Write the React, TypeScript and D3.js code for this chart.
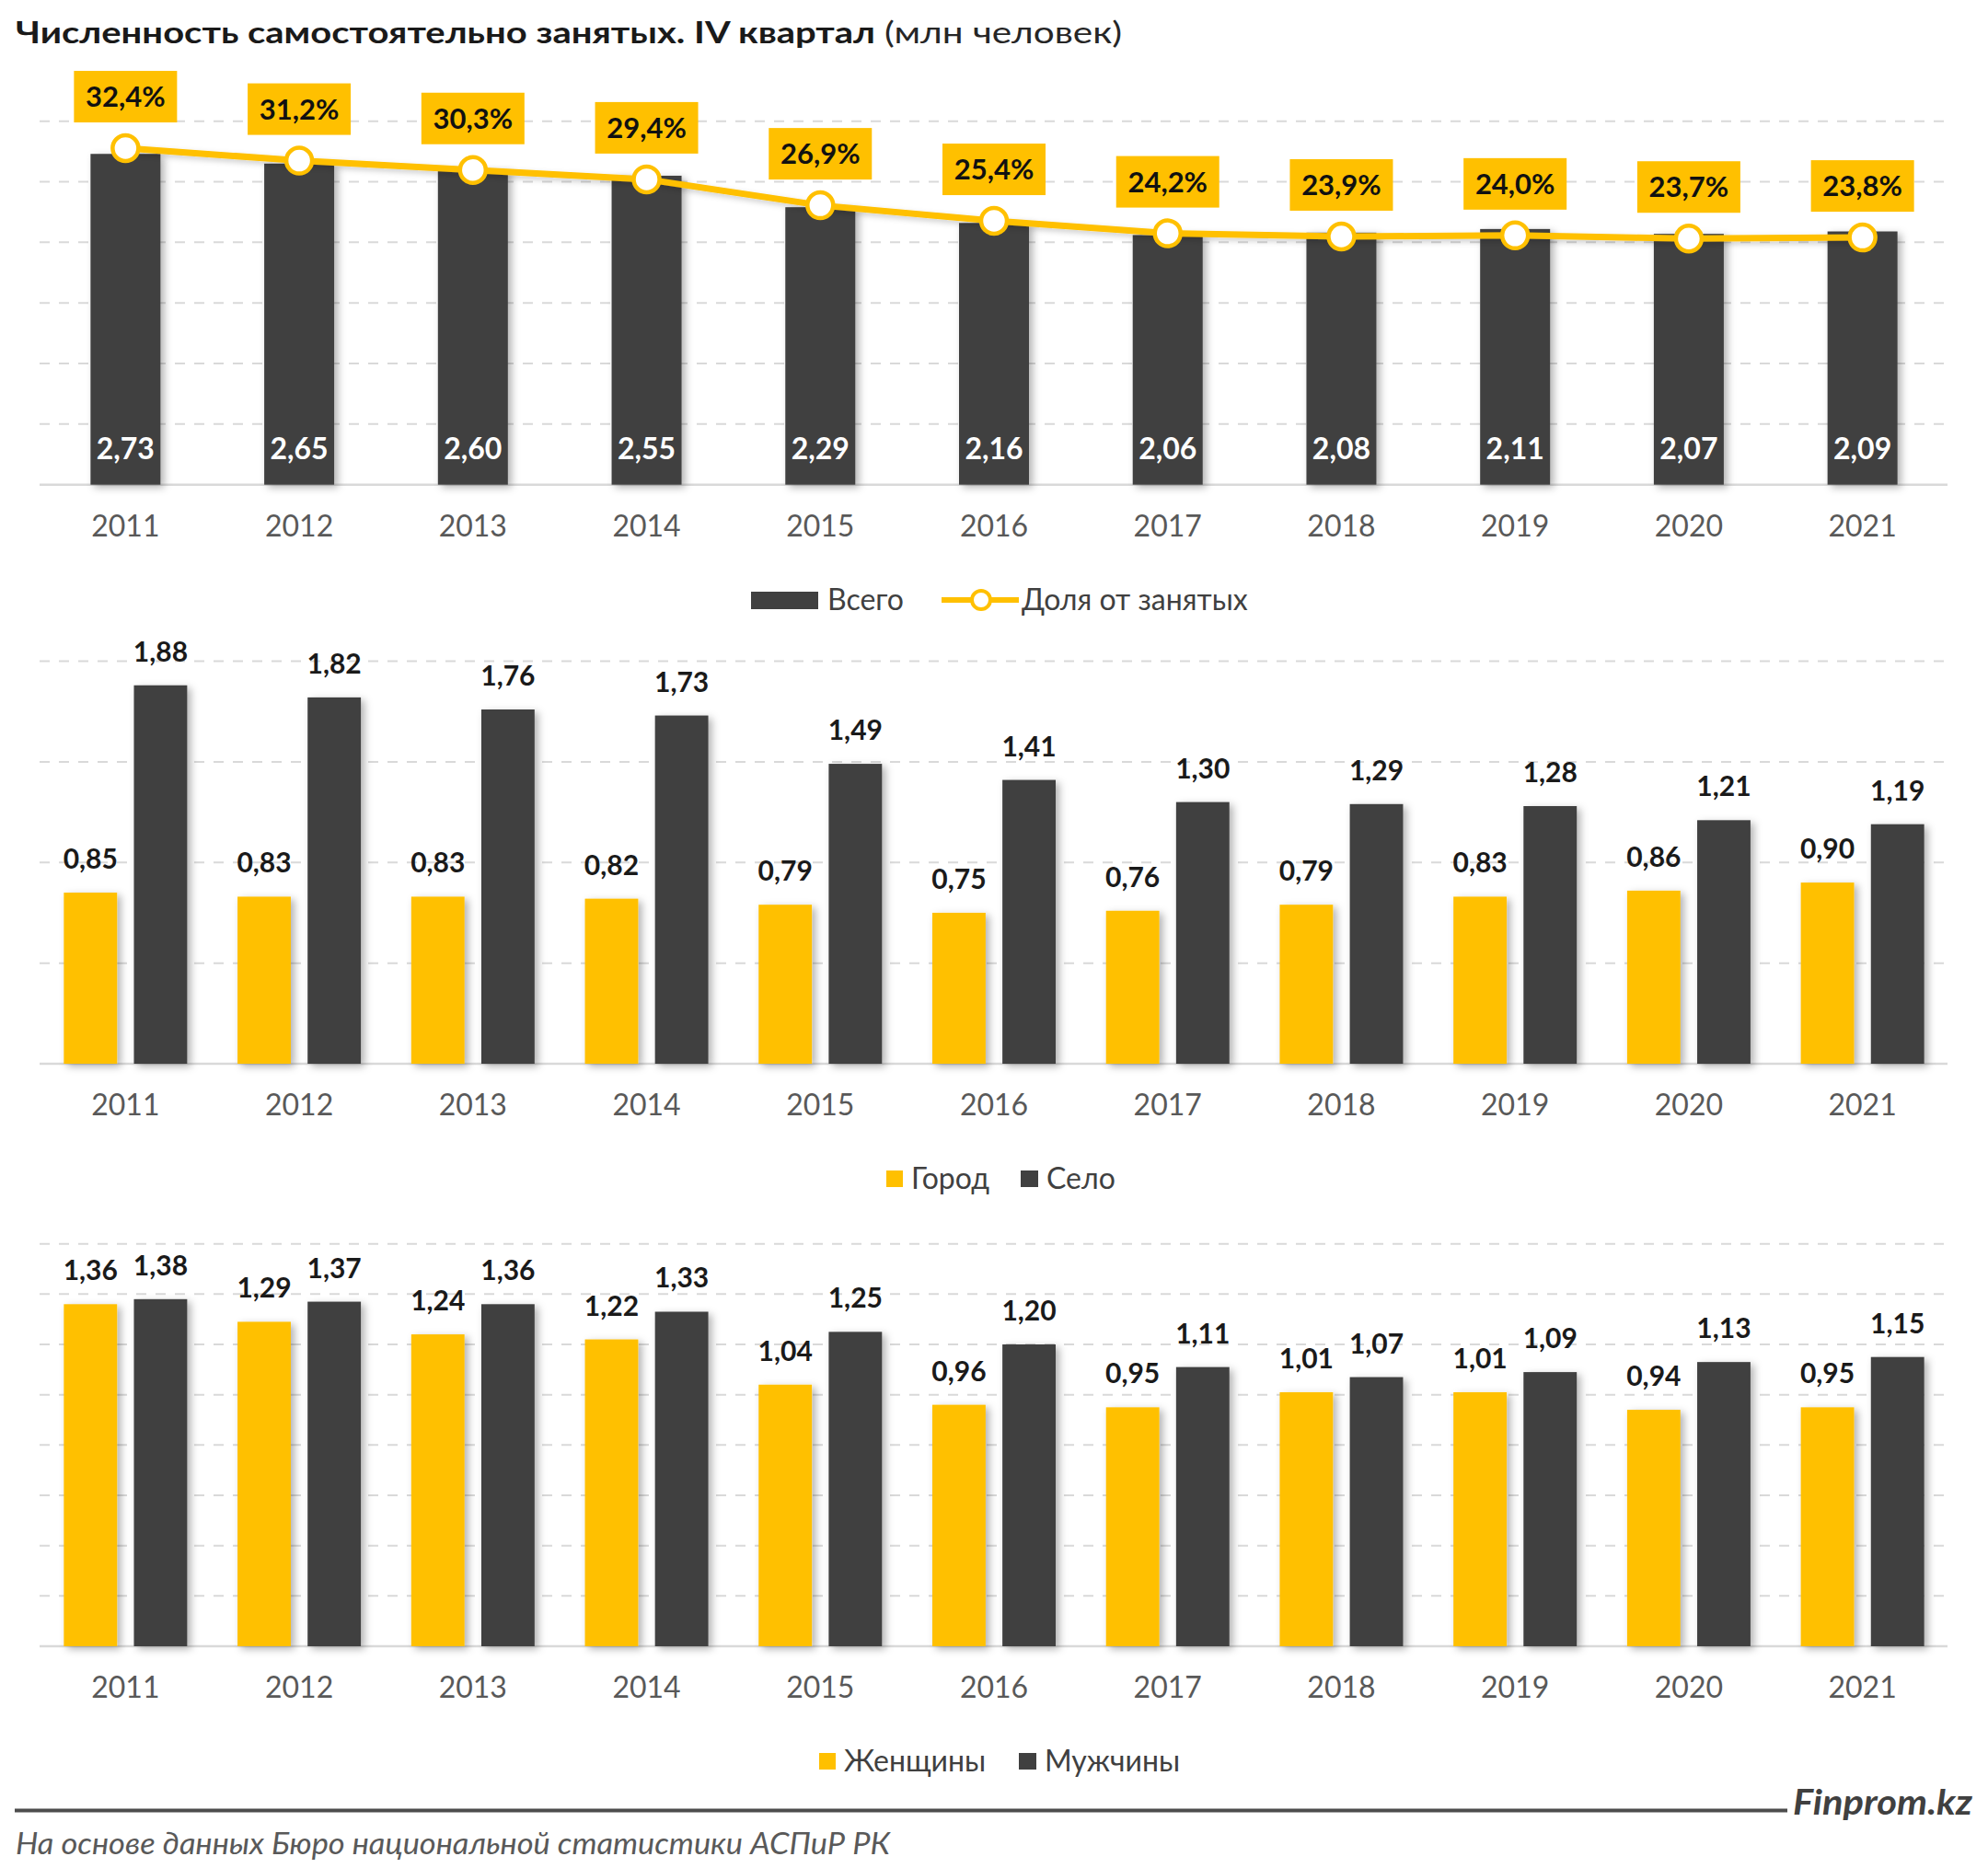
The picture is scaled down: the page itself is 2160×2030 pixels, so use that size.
import React from 'react';
import * as d3 from 'd3';

const years = ['2011', '2012', '2013', '2014', '2015', '2016', '2017', '2018', '2019', '2020', '2021'];
const totalValues = [2.73, 2.65, 2.60, 2.55, 2.29, 2.16, 2.06, 2.08, 2.11, 2.07, 2.09];
const shareValues = [32.4, 31.2, 30.3, 29.4, 26.9, 25.4, 24.2, 23.9, 24.0, 23.7, 23.8];
const cityValues = [0.85, 0.83, 0.83, 0.82, 0.79, 0.75, 0.76, 0.79, 0.83, 0.86, 0.90];
const villageValues = [1.88, 1.82, 1.76, 1.73, 1.49, 1.41, 1.30, 1.29, 1.28, 1.21, 1.19];
const womenValues = [1.36, 1.29, 1.24, 1.22, 1.04, 0.96, 0.95, 1.01, 1.01, 0.94, 0.95];
const menValues = [1.38, 1.37, 1.36, 1.33, 1.25, 1.20, 1.11, 1.07, 1.09, 1.13, 1.15];

const W = 2160;
const H = 2030;
const YELLOW = '#FFC000';
const DARK = '#404040';
const GRID = '#D9D9D9';
const AXIS_TEXT = '#595959';
const FONT = 'Lato, "Open Sans", sans-serif';
const GRID_X0 = 43;
const GRID_X1 = 2116;

const fmt = (v: number, d = 2) => v.toFixed(d).replace('.', ',');

const x = d3.scaleBand<string>().domain(years).range([42, 2118]).paddingInner(0).paddingOuter(0);

function GridLines({ y, ticks }: { y: d3.ScaleLinear<number, number>; ticks: number[] }) {
  return (
    <g>
      {ticks.map((t, i) => (
        <line
          key={i}
          x1={GRID_X0}
          x2={GRID_X1}
          y1={y(t)}
          y2={y(t)}
          stroke={GRID}
          strokeWidth={t === 0 ? 2.5 : 2}
          strokeDasharray={t === 0 ? undefined : '11 10'}
        />
      ))}
    </g>
  );
}

function XLabels({ base }: { base: number }) {
  return (
    <g>
      {years.map((yr) => (
        <text
          key={yr}
          x={(x(yr) as number) + x.bandwidth() / 2}
          y={base + 56}
          textAnchor="middle"
          fontFamily={FONT}
          fontSize={32}
          fill={AXIS_TEXT}
        >
          {yr}
        </text>
      ))}
    </g>
  );
}

function Chart1() {
  const top = 131.7;
  const base = 526.7;
  const y = d3.scaleLinear().domain([0, 3]).range([base, top]);
  const y2 = d3.scaleLinear().domain([0, 35]).range([base, top]);
  const barW = 76;
  const cx = (yr: string) => (x(yr) as number) + x.bandwidth() / 2;
  const line = d3
    .line<number>()
    .x((_, i) => cx(years[i]))
    .y((d) => y2(d));
  return (
    <g>
      <GridLines y={y} ticks={d3.range(0, 3.01, 0.5)} />
      <g filter="url(#shadow)">
        {years.map((yr, i) => (
          <rect
            key={yr}
            x={cx(yr) - barW / 2}
            y={y(totalValues[i])}
            width={barW}
            height={base - y(totalValues[i])}
            fill={DARK}
          />
        ))}
      </g>
      {years.map((yr, i) => (
        <text
          key={yr}
          x={cx(yr)}
          y={base - 28}
          textAnchor="middle"
          fontFamily={FONT}
          fontWeight={700}
          fontSize={32}
          fill="#FFFFFF"
        >
          {fmt(totalValues[i])}
        </text>
      ))}
      <path d={line(shareValues) || ''} fill="none" stroke={YELLOW} strokeWidth={7} filter="url(#shadowLine)" />
      {years.map((yr, i) => (
        <circle key={yr} cx={cx(yr)} cy={y2(shareValues[i])} r={14} fill="#FFFFFF" stroke={YELLOW} strokeWidth={4.5} />
      ))}
      {years.map((yr, i) => {
        const py = y2(shareValues[i]);
        const bw = 112;
        const bh = 56;
        const by = py - 28 - bh;
        return (
          <g key={yr}>
            <rect x={cx(yr) - bw / 2} y={by} width={bw} height={bh} fill={YELLOW} />
            <text
              x={cx(yr)}
              y={by + bh / 2 + 11}
              textAnchor="middle"
              fontFamily={FONT}
              fontWeight={700}
              fontSize={31}
              fill="#111111"
            >
              {fmt(shareValues[i], 1) + '%'}
            </text>
          </g>
        );
      })}
      <XLabels base={base} />
      {/* legend */}
      <g fontFamily={FONT} fontSize={32} fill={DARK}>
        <rect x={816} y={643} width={73} height={19} fill={DARK} />
        <text x={899} y={663}>Всего</text>
        <line x1={1023} x2={1107} y1={652} y2={652} stroke={YELLOW} strokeWidth={6} />
        <circle cx={1066} cy={652} r={10} fill="#FFFFFF" stroke={YELLOW} strokeWidth={4} />
        <text x={1110} y={663}>Доля от занятых</text>
      </g>
    </g>
  );
}

function GroupChart({
  top,
  base,
  max,
  step,
  a,
  b,
  legendA,
  legendB,
  legendY,
  legendAX,
  legendBX,
}: {
  top: number;
  base: number;
  max: number;
  step: number;
  a: number[];
  b: number[];
  legendA: string;
  legendB: string;
  legendY: number;
  legendAX: number;
  legendBX: number;
}) {
  const y = d3.scaleLinear().domain([0, max]).range([base, top]);
  const groupW = 134;
  const inner = d3.scaleBand<string>().domain(['a', 'b']).range([0, groupW]).paddingInner(0.24);
  const gx = (yr: string) => (x(yr) as number) + (x.bandwidth() - groupW) / 2;
  const series = [
    { key: 'a', vals: a, color: YELLOW },
    { key: 'b', vals: b, color: DARK },
  ];
  return (
    <g>
      <GridLines y={y} ticks={d3.range(0, max + 0.001, step)} />
      <g filter="url(#shadow)">
        {series.map((s) =>
          years.map((yr, i) => (
            <rect
              key={s.key + yr}
              x={gx(yr) + (inner(s.key) as number)}
              y={y(s.vals[i])}
              width={inner.bandwidth()}
              height={base - y(s.vals[i])}
              fill={s.color}
            />
          ))
        )}
      </g>
      {series.map((s) =>
        years.map((yr, i) => (
          <text
            key={'t' + s.key + yr}
            x={gx(yr) + (inner(s.key) as number) + inner.bandwidth() / 2}
            y={y(s.vals[i]) - 26}
            textAnchor="middle"
            fontFamily={FONT}
            fontWeight={700}
            fontSize={30}
            fill="#1A1A1A"
          >
            {fmt(s.vals[i])}
          </text>
        ))
      )}
      <XLabels base={base} />
      <g fontFamily={FONT} fontSize={32} fill={DARK}>
        <rect x={legendAX} y={legendY - 9} width={18} height={18} fill={YELLOW} />
        <text x={legendAX + 27} y={legendY + 11}>{legendA}</text>
        <rect x={legendBX} y={legendY - 9} width={19} height={18} fill={DARK} />
        <text x={legendBX + 28} y={legendY + 11}>{legendB}</text>
      </g>
    </g>
  );
}

export default function App() {
  return (
    <svg
      width={W}
      height={H}
      viewBox={`0 0 ${W} ${H}`}
      style={{ position: 'absolute', left: 0, top: 0, background: '#FFFFFF' }}
    >
      <defs>
        <filter id="shadow" x="-20%" y="-20%" width="140%" height="140%">
          <feDropShadow dx={4} dy={3} stdDeviation={4} floodColor="#000000" floodOpacity={0.3} />
        </filter>
        <filter id="shadowLine" x="-5%" y="-50%" width="110%" height="200%">
          <feDropShadow dx={2} dy={3} stdDeviation={3} floodColor="#000000" floodOpacity={0.2} />
        </filter>
      </defs>
      <rect width={W} height={H} fill="#FFFFFF" />
      <text
        x={17}
        y={47}
        fontFamily={FONT}
        fontSize={33}
        fontWeight={700}
        fill="#1A1A1A"
        textLength={934}
        lengthAdjust="spacingAndGlyphs"
      >
        Численность самостоятельно занятых. IV квартал
      </text>
      <text
        x={961}
        y={47}
        fontFamily={FONT}
        fontSize={33}
        fill="#262626"
        textLength={258}
        lengthAdjust="spacingAndGlyphs"
      >
        (млн человек)
      </text>
      <Chart1 />
      <GroupChart
        top={718.5}
        base={1156}
        max={2}
        step={0.5}
        a={cityValues}
        b={villageValues}
        legendA="Город"
        legendB="Село"
        legendY={1281}
        legendAX={963}
        legendBX={1109}
      />
      <GroupChart
        top={1351.7}
        base={1789}
        max={1.6}
        step={0.2}
        a={womenValues}
        b={menValues}
        legendA="Женщины"
        legendB="Мужчины"
        legendY={1914}
        legendAX={890}
        legendBX={1107}
      />
      {/* footer */}
      <line x1={16} x2={1942} y1={1967.5} y2={1967.5} stroke="#4D4D4D" strokeWidth={4} />
      <text
        x={1948}
        y={1972}
        fontFamily={FONT}
        fontStyle="italic"
        fontWeight={700}
        fontSize={38}
        fill="#404040"
        textLength={195}
        lengthAdjust="spacingAndGlyphs"
      >
        Finprom.kz
      </text>
      <text
        x={17}
        y={2015}
        fontFamily={FONT}
        fontStyle="italic"
        fontSize={32}
        fill="#595959"
        textLength={950}
        lengthAdjust="spacingAndGlyphs"
      >
        На основе данных Бюро национальной статистики АСПиР РК
      </text>
    </svg>
  );
}
